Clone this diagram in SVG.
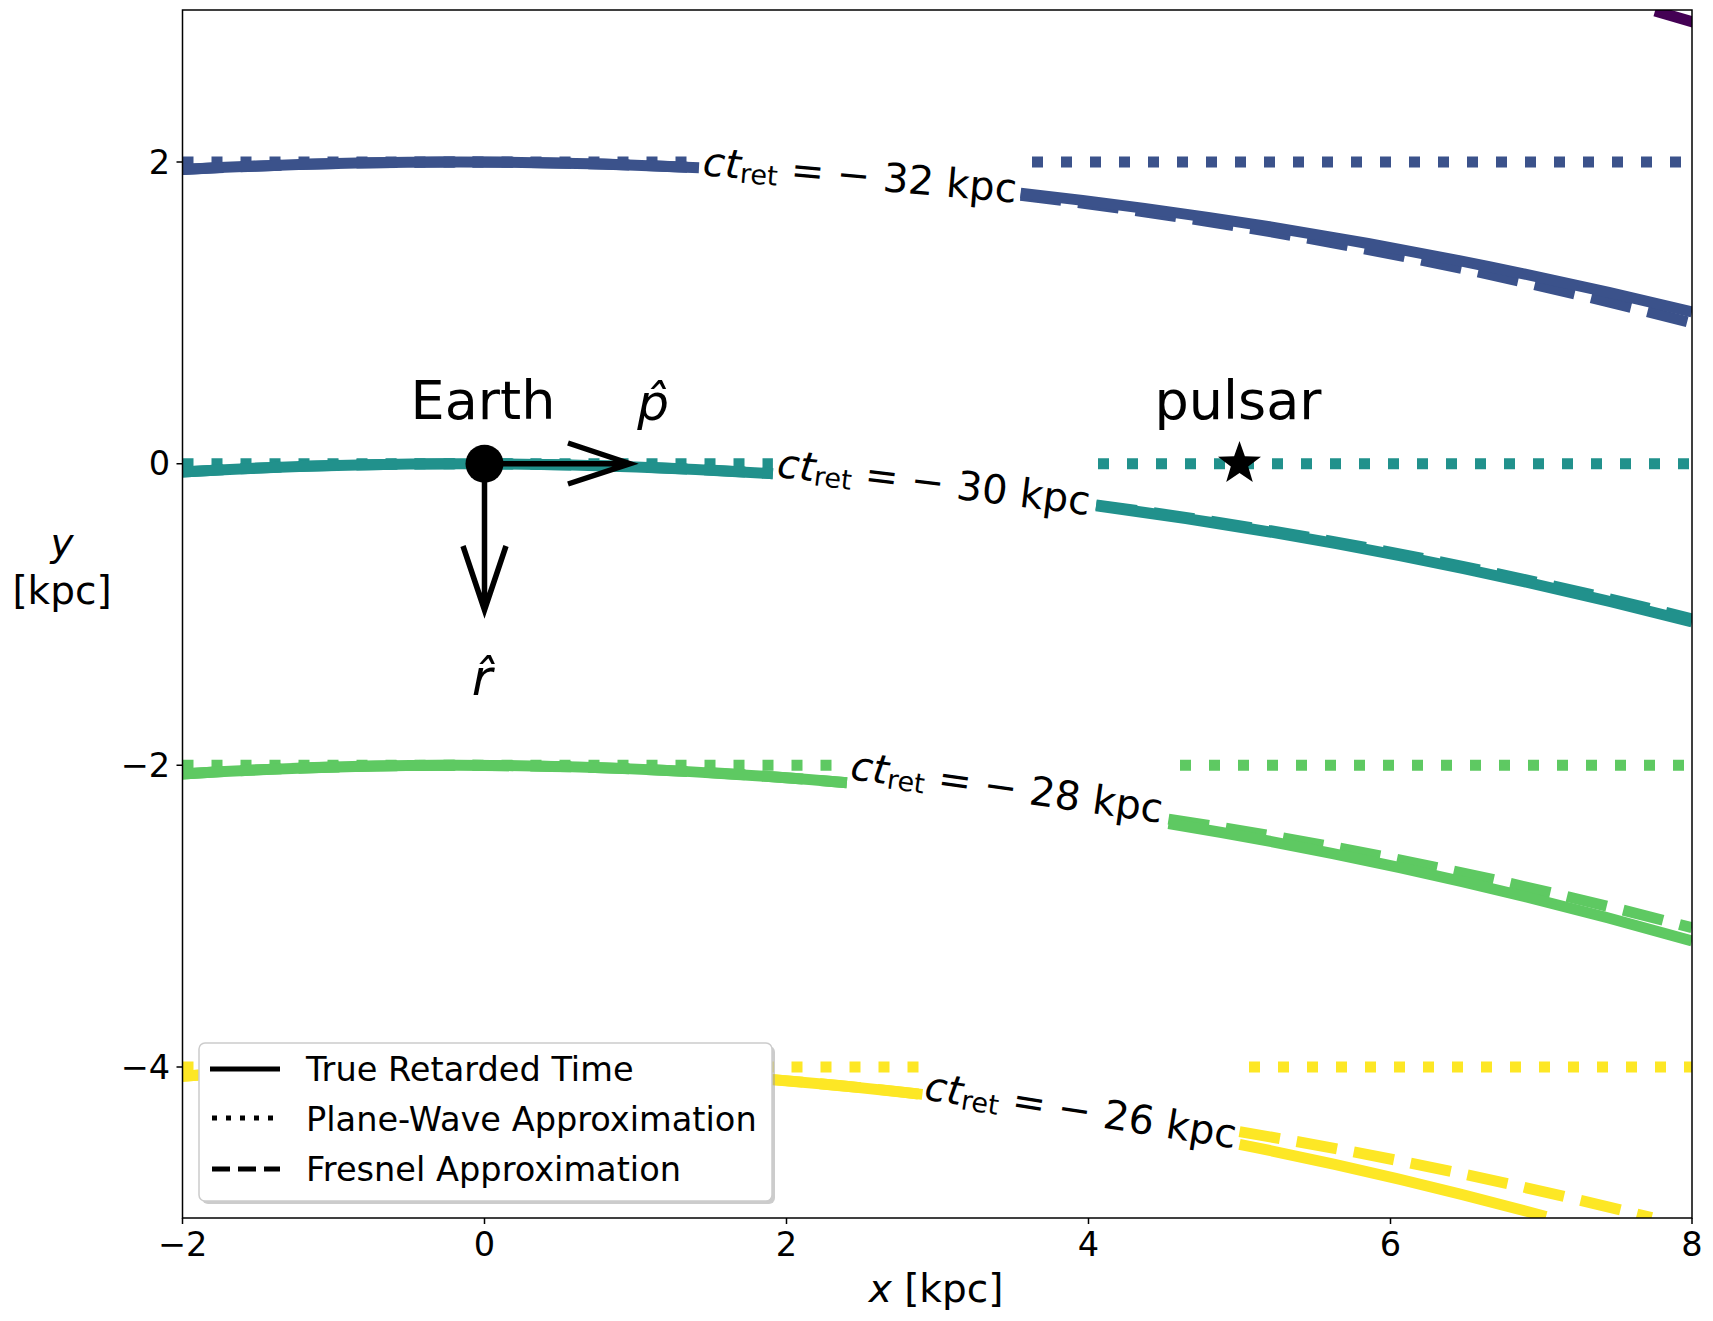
<svg xmlns="http://www.w3.org/2000/svg" width="1713" height="1321" viewBox="0 0 1713 1321">
<style>
.t{font-family:"DejaVu Sans",sans-serif;fill:#000}
.tick{font-size:33.6px}
.lab{font-size:40px}
.solid{fill:none;stroke-width:11}
.dot{fill:none;stroke-width:11;stroke-dasharray:11 18}
.dash{fill:none;stroke-width:11;stroke-dasharray:41 17}
.c1{stroke:#3b528b}.c2{stroke:#21918c}.c3{stroke:#5ec962}.c4{stroke:#fde725}
</style>
<defs><clipPath id="ax"><rect x="182.5" y="10" width="1509.5" height="1208"/></clipPath></defs>
<rect width="1713" height="1321" fill="#fff"/>
<g id="curves" clip-path="url(#ax)">
<path class="solid" style="stroke:#440154" d="M1655,11 L1700,24"/>
<path class="dot c1" d="M182.5,162H699M1032,162H1692"/>
<path class="dash c1" d="M182.5,169.6Q440.7,155.5 699,167.7M1020.6,195.4Q1356.3,235.3 1692,323"/>
<path class="solid c1" d="M182.5,169.6Q440.7,155.5 699,167.7M1020.6,193.1Q1356.3,230.3 1692,311.9"/>
<path class="dot c2" d="M182.5,463.7H772.9M1098,463.7H1692"/>
<path class="dash c2" d="M182.5,471.9Q477.7,454.6 772.9,473.8M1096.1,504.9Q1394,543.7 1692,619"/>
<path class="solid c2" d="M182.5,471.9Q477.7,454.6 772.9,473.8M1096.1,505.7Q1394,545.3 1692,622"/>
<path class="dot c3" d="M182.5,765.3H849M1180,765.3H1692"/>
<path class="dash c3" d="M182.5,774Q514.7,753 846.9,782.8M1168.5,819.1Q1430.2,858.8 1692,927.8"/>
<path class="solid c3" d="M182.5,774Q514.7,753 846.9,782.8M1168.5,823.5Q1430.2,866.4 1692,940.9"/>
<path class="dot c4" d="M182.5,1067H926M1249,1067H1692"/>
<path class="dash c4" d="M182.5,1076.2Q552.4,1050.9 922.4,1094.4M1239.5,1131.7Q1445.6,1165.8 1651.7,1217.7"/>
<path class="solid c4" d="M182.5,1076.2Q552.4,1050.9 922.4,1094.4M1239.5,1144.4Q1392.8,1174.6 1546,1216.6"/>
</g>
<g id="labels" class="t lab">
<text transform="translate(860,175) rotate(5)" text-anchor="middle" dominant-baseline="central"><tspan font-style="italic">ct</tspan><tspan font-size="27" dy="8">ret</tspan><tspan dy="-8"> = − 32 kpc</tspan></text>
<text transform="translate(934,482) rotate(7)" text-anchor="middle" dominant-baseline="central"><tspan font-style="italic">ct</tspan><tspan font-size="27" dy="8">ret</tspan><tspan dy="-8"> = − 30 kpc</tspan></text>
<text transform="translate(1007,787) rotate(8)" text-anchor="middle" dominant-baseline="central"><tspan font-style="italic">ct</tspan><tspan font-size="27" dy="8">ret</tspan><tspan dy="-8"> = − 28 kpc</tspan></text>
<text transform="translate(1081,1110) rotate(9)" text-anchor="middle" dominant-baseline="central"><tspan font-style="italic">ct</tspan><tspan font-size="27" dy="8">ret</tspan><tspan dy="-8"> = − 26 kpc</tspan></text>
</g>
<g id="earth">
<path d="M484.5,463.7H630M568,443L630,463.7L568,484M484.5,463.7V610M463,546L484.5,610L506,546" fill="none" stroke="#000" stroke-width="5.5"/>
<circle cx="484.5" cy="463.7" r="19" fill="#000"/>
<text class="t" x="483" y="419" font-size="54" text-anchor="middle">Earth</text>
<text class="t" x="653" y="420" font-size="50" text-anchor="middle" font-style="italic">p̂</text>
<text class="t" x="482" y="695" font-size="50" text-anchor="middle" font-style="italic">r̂</text>
</g>
<g id="pulsar">
<polygon fill="#000" points="1239.5,441 1244.9,456.3 1261,456.8 1248.2,466.6 1252.8,482 1239.5,472.9 1226.2,482 1230.8,466.6 1218,456.8 1234.1,456.3"/>
<text class="t" x="1238" y="419" font-size="54" text-anchor="middle">pulsar</text>
</g>
<g id="axes" fill="none" stroke="#000" stroke-width="1.5">
<rect x="182.5" y="10" width="1509.5" height="1208"/>
<path d="M182.5,162h-6M182.5,463.7h-6M182.5,765.3h-6M182.5,1067h-6M182.5,1218v6M484.5,1218v6M786.5,1218v6M1088.5,1218v6M1390.5,1218v6M1692,1218v6"/>
</g>
<g id="ticks" class="t tick">
<g text-anchor="end" dominant-baseline="central">
<text x="170" y="162">2</text><text x="170" y="463.7">0</text><text x="170" y="765.3">−2</text><text x="170" y="1067">−4</text>
</g>
<g text-anchor="middle">
<text x="182.5" y="1256">−2</text><text x="484.5" y="1256">0</text><text x="786.5" y="1256">2</text><text x="1088.5" y="1256">4</text><text x="1390.5" y="1256">6</text><text x="1692" y="1256">8</text>
</g>
<text x="936" y="1302" font-size="39" text-anchor="middle"><tspan font-style="italic">x</tspan> [kpc]</text>
<text x="62" y="556" font-size="39" text-anchor="middle" font-style="italic">y</text>
<text x="62" y="604" font-size="39" text-anchor="middle">[kpc]</text>
</g>
<g id="legend">
<rect x="202" y="1046" width="573" height="158" rx="6" fill="#999" opacity="0.5"/>
<rect x="199" y="1043" width="573" height="158" rx="6" fill="#fff" stroke="#ccc" stroke-width="1.5"/>
<path d="M210,1069H280" stroke="#000" stroke-width="5" fill="none"/>
<path d="M212,1118H280" stroke="#000" stroke-width="5" stroke-dasharray="5 9" fill="none"/>
<path d="M212,1169H280" stroke="#000" stroke-width="5" stroke-dasharray="18 8" fill="none"/>
<g class="t tick" dominant-baseline="central">
<text x="306" y="1069">True Retarded Time</text>
<text x="306" y="1119">Plane-Wave Approximation</text>
<text x="306" y="1169">Fresnel Approximation</text>
</g>
</g>
</svg>
